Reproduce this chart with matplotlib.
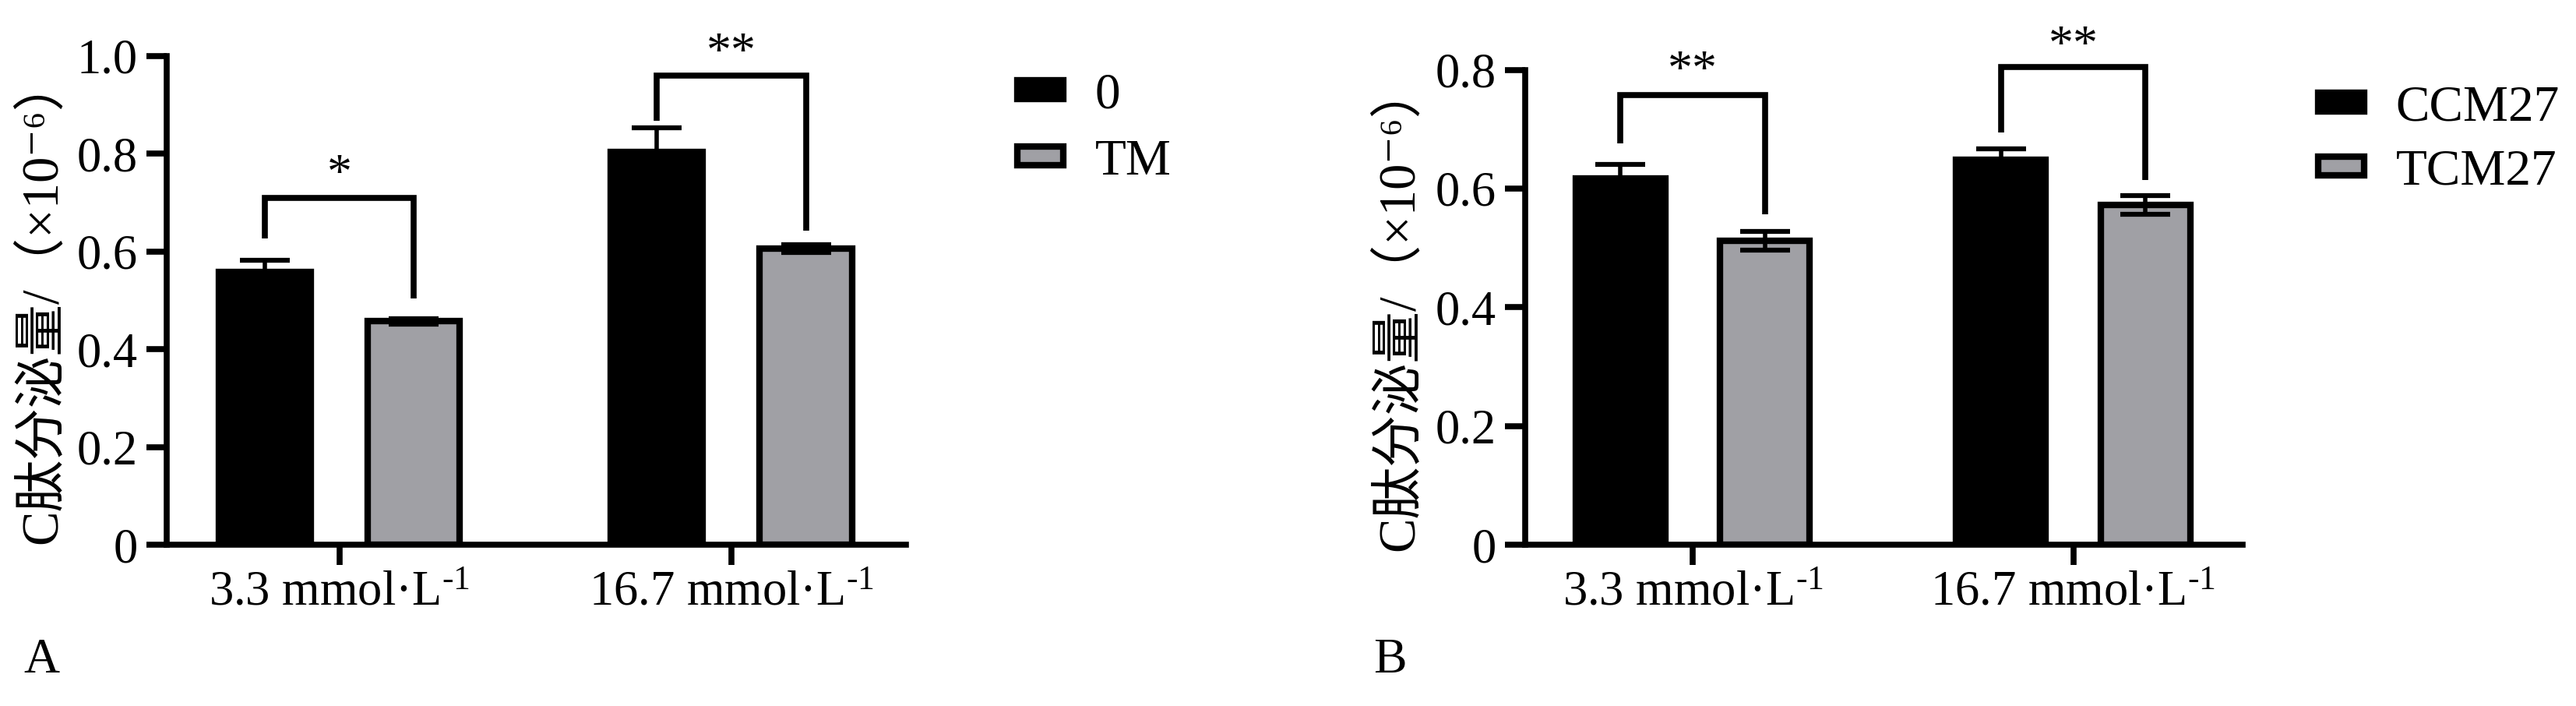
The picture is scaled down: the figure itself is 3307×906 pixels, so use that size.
import numpy as np
import matplotlib.pyplot as plt
from matplotlib.transforms import offset_copy

plt.rcParams['font.family'] = ['Liberation Serif', 'Noto Sans CJK SC', 'DejaVu Serif']
plt.rcParams['mathtext.fontset'] = 'custom'
plt.rcParams['mathtext.rm'] = 'Liberation Serif'
plt.rcParams['mathtext.it'] = 'Liberation Serif:italic'

# 共用
groups = [r'3.3 mmol·L$^{\text{-}1}$', r'16.7 mmol·L$^{\text{-}1}$']
y_label = 'C肽分泌量/（×10⁻⁶）'
colors = ['black', '#a0a0a5']

# A图
a_series = ['0', 'TM']
a_mean = [[0.558, 0.804], [0.457, 0.606]]
a_err = [[0.024, 0.049], [0.006, 0.008]]
a_ticks = [0, 0.2, 0.4, 0.6, 0.8, 1.0]
a_ticklabels = ['0', '0.2', '0.4', '0.6', '0.8', '1.0']
a_sig = ['*', '**']
# 左腿底, 顶, 右腿底
a_bracket = [[0.627, 0.710, 0.504], [0.868, 0.960, 0.643]]
a_star_y = [0.778, 1.027]

# B图
b_series = ['CCM27', 'TCM27']
b_mean = [[0.617, 0.648], [0.512, 0.572]]
b_err = [[0.024, 0.019], [0.016, 0.016]]
b_ticks = [0, 0.2, 0.4, 0.6, 0.8]
b_ticklabels = ['0', '0.2', '0.4', '0.6', '0.8']
b_sig = ['**', '**']
b_bracket = [[0.676, 0.757, 0.557], [0.694, 0.804, 0.614]]
b_star_y = [0.815, 0.857]

W, H = 3307, 906
fig = plt.figure(figsize=(W / 100, H / 100), dpi=100)

offsets = [-0.19, 0.19]
width = 0.235
lw = 5.5


def draw_panel(ax, series, means, errs, ticks, ticklabels, sig, brackets, star_y,
               label_x, leg_xy, leg_space):
    x = np.arange(len(groups))
    for i, name in enumerate(series):
        ax.bar(x + offsets[i], means[i], width, color=colors[i], edgecolor='black',
               linewidth=6, label=name, zorder=2)
        ax.errorbar(x + offsets[i], means[i], yerr=errs[i], fmt='none', ecolor='black',
                    elinewidth=4, capsize=22.7, capthick=4.5, zorder=3)

    # 显著性标记
    star_tr = offset_copy(ax.transData, fig=fig, y=-30, units='dots')
    for j in range(len(groups)):
        xl, xr = x[j] + offsets[0], x[j] + offsets[1]
        yl, yt, yr = brackets[j]
        ax.plot([xl, xl, xr, xr], [yl, yt, yt, yr], color='black', lw=lw,
                solid_joinstyle='miter', solid_capstyle='butt', clip_on=False, zorder=4)
        ax.text(x[j], star_y[j], sig[j], ha='center', va='baseline', fontsize=46,
                transform=star_tr, clip_on=False)

    ax.set_xlim(-0.44, 1.445)
    ax.set_ylim(0, ticks[-1])
    ax.set_xticks(x)
    ax.set_xticklabels(groups)
    ax.set_yticks(ticks)
    ax.set_yticklabels(ticklabels)
    for s in ['top', 'right']:
        ax.spines[s].set_visible(False)
    for s in ['left', 'bottom']:
        ax.spines[s].set_linewidth(lw)
    ax.tick_params(axis='both', length=19, width=lw, labelsize=45)
    ax.tick_params(axis='x', pad=5)
    ax.tick_params(axis='y', pad=8)

    ax.set_ylabel(y_label, fontsize=48)
    ax.yaxis.set_label_coords(label_x, 0.5)

    ax.legend(loc='upper left', bbox_to_anchor=leg_xy, bbox_transform=fig.transFigure,
              frameon=False, fontsize=47, handlelength=0.9, handleheight=0.19,
              handletextpad=0.63, labelspacing=leg_space, borderpad=0, borderaxespad=0)


ax_a = fig.add_axes([214 / W, 1 - 699 / H, (1163 - 214) / W, (699 - 72) / H])
draw_panel(ax_a, a_series, a_mean, a_err, a_ticks, a_ticklabels, a_sig, a_bracket,
           a_star_y, -0.135, (1306 / W, 1 - 93 / H), 0.4)

ax_b = fig.add_axes([1958 / W, 1 - 699 / H, (2879 - 1958) / W, (699 - 89.5) / H])
draw_panel(ax_b, b_series, b_mean, b_err, b_ticks, b_ticklabels, b_sig, b_bracket,
           b_star_y, -0.141, (2976 / W, 1 - 109 / H), 0.35)

fig.text(30 / W, 1 - 848 / H, 'A', fontsize=46, va='center', ha='left')
fig.text(1763 / W, 1 - 848 / H, 'B', fontsize=46, va='center', ha='left')

fig.savefig('out.png', dpi=100)
